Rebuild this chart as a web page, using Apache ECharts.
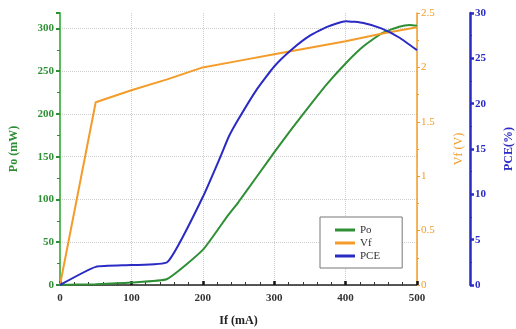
<!DOCTYPE html>
<html>
<head>
<meta charset="utf-8">
<script src="https://cdn.jsdelivr.net/npm/echarts@6/dist/echarts.min.js"></script>
<style>
html,body{margin:0;padding:0;background:#fff;}
#chart{width:516px;height:329px;}
</style>
</head>
<body>
<div id="chart"></div>
<script>
// 数据 (If in mA)
var poCurrent = [0, 50, 100, 150, 200, 234, 250, 275, 300, 325, 350, 375, 400, 425, 450, 475, 490, 500];
var poValues = [0, 1, 3, 7, 41, 80, 97, 126, 155, 183, 210, 236, 259, 279, 294, 302, 304, 303];

var vfCurrent = [0, 50, 100, 150, 200, 250, 300, 350, 400, 450, 500];
var vfValues = [0, 1.68, 1.79, 1.89, 2.0, 2.06, 2.12, 2.18, 2.24, 2.31, 2.37];

var pceCurrent = [0, 50, 100, 150, 200, 225, 236, 250, 275, 300, 325, 350, 375, 400, 425, 450, 475, 500];
var pceValues = [0, 2.0, 2.2, 2.5, 9.7, 14.2, 16.3, 18.3, 21.5, 24.1, 26.0, 27.5, 28.5, 29.1, 28.9, 28.3, 27.3, 25.9];

function zip(xs, ys){
	let a = [];
	for(let i = 0; i < xs.length; i++){
		a.push([xs[i], ys[i]]);
	}
	return a;
}

var serif = 'Liberation Serif';
var green = '#2f8f35', orange = '#f39c2a', blue = '#2a2ac4';

var option = {
	backgroundColor: '#fff',
	animation: false,
	grid: { left: 60, right: 99, top: 13, bottom: 44, outerBoundsMode: 'none' },
	legend: {
		left: 320, top: 217,
		orient: 'vertical',
		backgroundColor: '#fff',
		borderColor: '#777',
		borderWidth: 1,
		padding: [7, 22, 6, 15],
		itemWidth: 20, itemHeight: 3, itemGap: 1,
		icon: 'rect',
		textStyle: { fontFamily: serif, fontSize: 11, color: '#333', lineHeight: 12 },
		data: ['Po', 'Vf', 'PCE']
	},
	xAxis: {
		type: 'value', min: 0, max: 500, interval: 100,
		name: 'If (mA)', nameLocation: 'middle', nameGap: 30,
		nameTextStyle: { fontFamily: serif, fontSize: 12, fontWeight: 'bold', color: '#222' },
		axisLine: { lineStyle: { color: '#222', width: 1.5 } },
		axisTick: { inside: true, length: 4, lineStyle: { width: 2.5, color: '#111' } },
		minorTick: { show: true, splitNumber: 5, length: 3, lineStyle: { color: '#333' } },
		axisLabel: { fontFamily: serif, fontSize: 11, fontWeight: 'bold', color: '#333', margin: 8 },
		splitLine: { show: true, lineStyle: { color: '#cfcfcf', type: 'dotted' } }
	},
	yAxis: [{
		type: 'value', min: 0, max: 318, interval: 50,
		name: 'Po (mW)', nameLocation: 'middle', nameGap: 40,
		nameTextStyle: { fontFamily: serif, fontSize: 12, fontWeight: 'bold', color: green },
		axisLine: { show: true, lineStyle: { color: '#5cb85c', width: 2 } },
		axisTick: { show: true, length: 4, lineStyle: { color: green, width: 2 } },
		minorTick: { show: true, splitNumber: 2, length: 3, lineStyle: { color: green } },
		axisLabel: { fontFamily: serif, fontSize: 11, fontWeight: 'bold', color: green, margin: 6, showMaxLabel: false },
		splitLine: { show: true, showMaxLine: false, lineStyle: { color: '#cfcfcf', type: 'dotted' } }
	}, {
		type: 'value', min: 0, max: 2.5, interval: 0.5, position: 'right',
		name: 'Vf (V)', nameLocation: 'middle', nameGap: 36,
		nameTextStyle: { fontFamily: serif, fontSize: 12, color: orange },
		axisLine: { show: true, lineStyle: { color: orange, width: 1.5 } },
		axisTick: { show: true, length: 3, lineStyle: { color: orange } },
		minorTick: { show: true, splitNumber: 2, length: 2, lineStyle: { color: orange } },
		axisLabel: { fontFamily: serif, fontSize: 11, color: orange, margin: 4 },
		splitLine: { show: false }
	}, {
		type: 'value', min: 0, max: 30, interval: 5, position: 'right', offset: 53,
		name: 'PCE(%)', nameLocation: 'middle', nameGap: 33,
		nameTextStyle: { fontFamily: serif, fontSize: 12, fontWeight: 'bold', color: blue },
		axisLine: { show: true, lineStyle: { color: blue, width: 2.5 } },
		axisTick: { show: true, length: 4, lineStyle: { color: blue, width: 2.5 } },
		minorTick: { show: true, splitNumber: 2, length: 2, lineStyle: { color: blue } },
		axisLabel: { fontFamily: serif, fontSize: 11, fontWeight: 'bold', color: blue, margin: 5 },
		splitLine: { show: false }
	}],
	series: [{
		name: 'Po', type: 'line', yAxisIndex: 0, showSymbol: false,
		smooth: 0.15,
		color: green, lineStyle: { width: 2, color: green },
		data: zip(poCurrent, poValues)
	}, {
		name: 'Vf', type: 'line', yAxisIndex: 1, showSymbol: false,
		color: orange, lineStyle: { width: 2, color: orange },
		data: zip(vfCurrent, vfValues)
	}, {
		name: 'PCE', type: 'line', yAxisIndex: 2, showSymbol: false,
		smooth: 0.15,
		color: blue, lineStyle: { width: 2, color: blue },
		data: zip(pceCurrent, pceValues)
	}]
};

var myChart = echarts.init(document.getElementById('chart'));
myChart.setOption(option);
</script>
</body>
</html>
